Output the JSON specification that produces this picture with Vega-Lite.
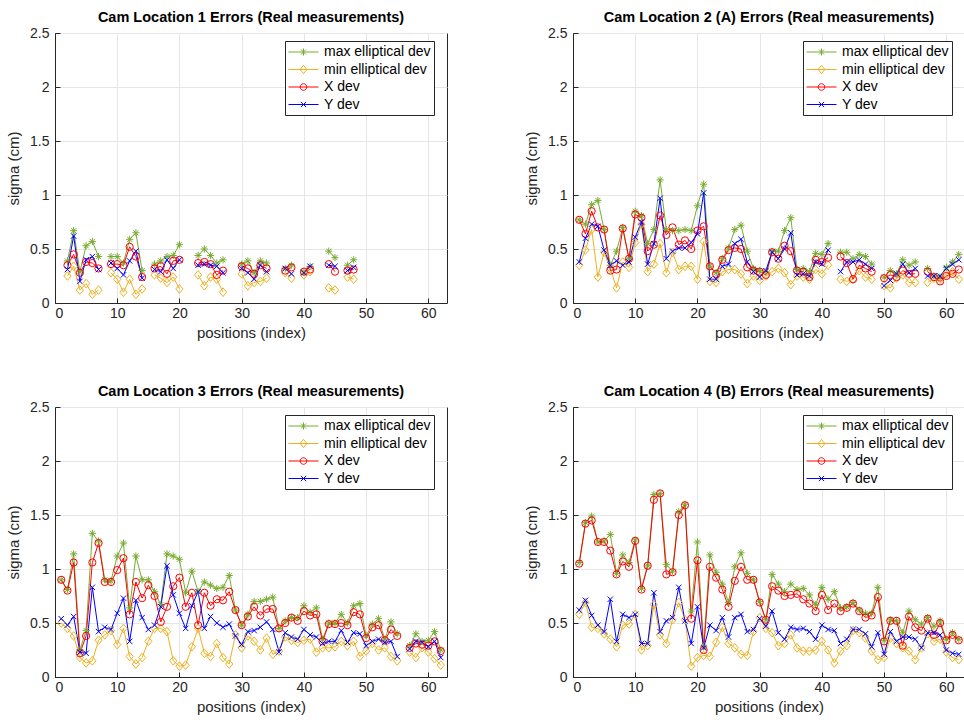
{
"$schema": "https://vega.github.io/schema/vega-lite/v6.json",
"background": "white",
"padding": {"left": 6, "top": 9, "right": 0, "bottom": 0},
"datasets": {
"d": [
{"p":1,"i":2,"mx":0.39,"mn":0.25,"xd":0.35,"yd":0.31},
{"p":1,"i":3,"mx":0.67,"mn":0.34,"xd":0.45,"yd":0.62},
{"p":1,"i":4,"mx":0.29,"mn":0.12,"xd":0.28,"yd":0.20},
{"p":1,"i":5,"mx":0.53,"mn":0.18,"xd":0.38,"yd":0.40},
{"p":1,"i":6,"mx":0.57,"mn":0.08,"xd":0.37,"yd":0.43},
{"p":1,"i":7,"mx":0.43,"mn":0.12,"xd":0.32,"yd":0.31},
{"p":1,"i":8},
{"p":1,"i":9,"mx":0.43,"mn":0.28,"xd":0.36,"yd":0.37},
{"p":1,"i":10,"mx":0.43,"mn":0.22,"xd":0.36,"yd":0.32},
{"p":1,"i":11,"mx":0.37,"mn":0.10,"xd":0.35,"yd":0.26},
{"p":1,"i":12,"mx":0.59,"mn":0.22,"xd":0.52,"yd":0.39},
{"p":1,"i":13,"mx":0.65,"mn":0.08,"xd":0.43,"yd":0.48},
{"p":1,"i":14,"mx":0.30,"mn":0.13,"xd":0.24,"yd":0.23},
{"p":1,"i":15},
{"p":1,"i":16,"mx":0.36,"mn":0.26,"xd":0.32,"yd":0.31},
{"p":1,"i":17,"mx":0.39,"mn":0.23,"xd":0.34,"yd":0.29},
{"p":1,"i":18,"mx":0.43,"mn":0.19,"xd":0.27,"yd":0.40},
{"p":1,"i":19,"mx":0.44,"mn":0.24,"xd":0.39,"yd":0.32},
{"p":1,"i":20,"mx":0.54,"mn":0.13,"xd":0.40,"yd":0.40},
{"p":1,"i":21},
{"p":1,"i":23,"mx":0.44,"mn":0.26,"xd":0.37,"yd":0.35},
{"p":1,"i":24,"mx":0.50,"mn":0.16,"xd":0.38,"yd":0.36},
{"p":1,"i":25,"mx":0.44,"mn":0.24,"xd":0.36,"yd":0.35},
{"p":1,"i":26,"mx":0.37,"mn":0.22,"xd":0.26,"yd":0.34},
{"p":1,"i":27,"mx":0.40,"mn":0.10,"xd":0.30,"yd":0.28},
{"p":1,"i":28},
{"p":1,"i":30,"mx":0.36,"mn":0.27,"xd":0.34,"yd":0.32},
{"p":1,"i":31,"mx":0.39,"mn":0.16,"xd":0.32,"yd":0.28},
{"p":1,"i":32,"mx":0.28,"mn":0.19,"xd":0.27,"yd":0.22},
{"p":1,"i":33,"mx":0.39,"mn":0.20,"xd":0.35,"yd":0.35},
{"p":1,"i":34,"mx":0.37,"mn":0.23,"xd":0.32,"yd":0.29},
{"p":1,"i":35},
{"p":1,"i":37,"mx":0.32,"mn":0.28,"xd":0.30,"yd":0.32},
{"p":1,"i":38,"mx":0.35,"mn":0.23,"xd":0.33,"yd":0.27},
{"p":1,"i":39},
{"p":1,"i":40,"mx":0.29,"mn":0.26,"xd":0.29,"yd":0.28},
{"p":1,"i":41,"mx":0.34,"mn":0.29,"xd":0.31,"yd":0.34},
{"p":1,"i":42},
{"p":1,"i":44,"mx":0.48,"mn":0.14,"xd":0.36,"yd":0.35},
{"p":1,"i":45,"mx":0.42,"mn":0.12,"xd":0.29,"yd":0.34},
{"p":1,"i":46},
{"p":1,"i":47,"mx":0.35,"mn":0.24,"xd":0.30,"yd":0.30},
{"p":1,"i":48,"mx":0.40,"mn":0.22,"xd":0.31,"yd":0.33},
{"p":2,"i":1,"mx":0.77,"mn":0.35,"xd":0.77,"yd":0.38},
{"p":2,"i":2,"mx":0.73,"mn":0.49,"xd":0.64,"yd":0.60},
{"p":2,"i":3,"mx":0.91,"mn":0.68,"xd":0.85,"yd":0.73},
{"p":2,"i":4,"mx":0.95,"mn":0.24,"xd":0.70,"yd":0.71},
{"p":2,"i":5,"mx":0.68,"mn":0.47,"xd":0.68,"yd":0.49},
{"p":2,"i":6,"mx":0.35,"mn":0.32,"xd":0.30,"yd":0.35},
{"p":2,"i":7,"mx":0.48,"mn":0.14,"xd":0.31,"yd":0.39},
{"p":2,"i":8,"mx":0.70,"mn":0.38,"xd":0.69,"yd":0.35},
{"p":2,"i":9,"mx":0.41,"mn":0.33,"xd":0.41,"yd":0.38},
{"p":2,"i":10,"mx":0.85,"mn":0.56,"xd":0.82,"yd":0.61},
{"p":2,"i":11,"mx":0.81,"mn":0.73,"xd":0.79,"yd":0.75},
{"p":2,"i":12,"mx":0.55,"mn":0.29,"xd":0.48,"yd":0.36},
{"p":2,"i":13,"mx":0.68,"mn":0.36,"xd":0.54,"yd":0.55},
{"p":2,"i":14,"mx":1.14,"mn":0.55,"xd":0.81,"yd":0.97},
{"p":2,"i":15,"mx":0.68,"mn":0.28,"xd":0.63,"yd":0.41},
{"p":2,"i":16,"mx":0.67,"mn":0.47,"xd":0.70,"yd":0.48},
{"p":2,"i":17,"mx":0.67,"mn":0.31,"xd":0.54,"yd":0.51},
{"p":2,"i":18,"mx":0.68,"mn":0.34,"xd":0.58,"yd":0.51},
{"p":2,"i":19,"mx":0.67,"mn":0.34,"xd":0.50,"yd":0.56},
{"p":2,"i":20,"mx":0.90,"mn":0.22,"xd":0.67,"yd":0.64},
{"p":2,"i":21,"mx":1.10,"mn":0.57,"xd":0.71,"yd":1.02},
{"p":2,"i":22,"mx":0.34,"mn":0.20,"xd":0.34,"yd":0.22},
{"p":2,"i":23,"mx":0.28,"mn":0.19,"xd":0.27,"yd":0.22},
{"p":2,"i":24,"mx":0.41,"mn":0.29,"xd":0.40,"yd":0.34},
{"p":2,"i":25,"mx":0.51,"mn":0.31,"xd":0.49,"yd":0.36},
{"p":2,"i":26,"mx":0.68,"mn":0.31,"xd":0.51,"yd":0.55},
{"p":2,"i":27,"mx":0.72,"mn":0.27,"xd":0.50,"yd":0.59},
{"p":2,"i":28,"mx":0.48,"mn":0.18,"xd":0.33,"yd":0.38},
{"p":2,"i":29,"mx":0.32,"mn":0.25,"xd":0.30,"yd":0.29},
{"p":2,"i":30,"mx":0.30,"mn":0.21,"xd":0.29,"yd":0.24},
{"p":2,"i":31,"mx":0.29,"mn":0.25,"xd":0.26,"yd":0.30},
{"p":2,"i":32,"mx":0.48,"mn":0.29,"xd":0.47,"yd":0.47},
{"p":2,"i":33,"mx":0.48,"mn":0.32,"xd":0.41,"yd":0.41},
{"p":2,"i":34,"mx":0.67,"mn":0.28,"xd":0.53,"yd":0.50},
{"p":2,"i":35,"mx":0.79,"mn":0.17,"xd":0.48,"yd":0.65},
{"p":2,"i":36,"mx":0.31,"mn":0.25,"xd":0.30,"yd":0.26},
{"p":2,"i":37,"mx":0.32,"mn":0.24,"xd":0.29,"yd":0.27},
{"p":2,"i":38,"mx":0.29,"mn":0.22,"xd":0.24,"yd":0.25},
{"p":2,"i":39,"mx":0.46,"mn":0.31,"xd":0.40,"yd":0.38},
{"p":2,"i":40,"mx":0.45,"mn":0.27,"xd":0.38,"yd":0.36},
{"p":2,"i":41,"mx":0.55,"mn":0.35,"xd":0.42,"yd":0.49},
{"p":2,"i":42},
{"p":2,"i":43,"mx":0.47,"mn":0.22,"xd":0.43,"yd":0.29},
{"p":2,"i":44,"mx":0.47,"mn":0.20,"xd":0.37,"yd":0.38},
{"p":2,"i":45,"mx":0.41,"mn":0.22,"xd":0.22,"yd":0.38},
{"p":2,"i":46,"mx":0.45,"mn":0.30,"xd":0.35,"yd":0.40},
{"p":2,"i":47,"mx":0.43,"mn":0.24,"xd":0.32,"yd":0.36},
{"p":2,"i":48,"mx":0.36,"mn":0.22,"xd":0.29,"yd":0.32},
{"p":2,"i":49},
{"p":2,"i":50,"mx":0.24,"mn":0.16,"xd":0.23,"yd":0.16},
{"p":2,"i":51,"mx":0.30,"mn":0.14,"xd":0.26,"yd":0.21},
{"p":2,"i":52,"mx":0.27,"mn":0.23,"xd":0.24,"yd":0.27},
{"p":2,"i":53,"mx":0.40,"mn":0.26,"xd":0.30,"yd":0.36},
{"p":2,"i":54,"mx":0.35,"mn":0.19,"xd":0.27,"yd":0.28},
{"p":2,"i":55,"mx":0.38,"mn":0.19,"xd":0.27,"yd":0.32},
{"p":2,"i":56},
{"p":2,"i":57,"mx":0.32,"mn":0.19,"xd":0.29,"yd":0.25},
{"p":2,"i":58,"mx":0.25,"mn":0.23,"xd":0.24,"yd":0.25},
{"p":2,"i":59,"mx":0.24,"mn":0.22,"xd":0.20,"yd":0.25},
{"p":2,"i":60,"mx":0.33,"mn":0.27,"xd":0.25,"yd":0.32},
{"p":2,"i":61,"mx":0.38,"mn":0.29,"xd":0.27,"yd":0.36},
{"p":2,"i":62,"mx":0.45,"mn":0.22,"xd":0.31,"yd":0.40},
{"p":3,"i":1,"mx":0.90,"mn":0.50,"xd":0.90,"yd":0.54},
{"p":3,"i":2,"mx":0.81,"mn":0.45,"xd":0.80,"yd":0.48},
{"p":3,"i":3,"mx":1.14,"mn":0.38,"xd":1.06,"yd":0.56},
{"p":3,"i":4,"mx":0.25,"mn":0.18,"xd":0.22,"yd":0.23},
{"p":3,"i":5,"mx":0.43,"mn":0.13,"xd":0.38,"yd":0.22},
{"p":3,"i":6,"mx":1.33,"mn":0.15,"xd":1.06,"yd":0.83},
{"p":3,"i":7,"mx":1.26,"mn":0.34,"xd":1.24,"yd":0.42},
{"p":3,"i":8,"mx":0.90,"mn":0.39,"xd":0.88,"yd":0.46},
{"p":3,"i":9,"mx":0.89,"mn":0.43,"xd":0.88,"yd":0.44},
{"p":3,"i":10,"mx":1.12,"mn":0.30,"xd":0.99,"yd":0.59},
{"p":3,"i":11,"mx":1.24,"mn":0.45,"xd":1.10,"yd":0.73},
{"p":3,"i":12,"mx":0.64,"mn":0.19,"xd":0.58,"yd":0.33},
{"p":3,"i":13,"mx":1.12,"mn":0.12,"xd":0.88,"yd":0.71},
{"p":3,"i":14,"mx":0.90,"mn":0.18,"xd":0.73,"yd":0.55},
{"p":3,"i":15,"mx":0.90,"mn":0.33,"xd":0.85,"yd":0.44},
{"p":3,"i":16,"mx":0.79,"mn":0.45,"xd":0.75,"yd":0.48},
{"p":3,"i":17,"mx":0.67,"mn":0.45,"xd":0.51,"yd":0.65},
{"p":3,"i":18,"mx":1.14,"mn":0.42,"xd":0.65,"yd":1.03},
{"p":3,"i":19,"mx":1.12,"mn":0.15,"xd":0.84,"yd":0.76},
{"p":3,"i":20,"mx":1.09,"mn":0.10,"xd":0.92,"yd":0.59},
{"p":3,"i":21,"mx":0.78,"mn":0.11,"xd":0.65,"yd":0.45},
{"p":3,"i":22,"mx":0.98,"mn":0.28,"xd":0.78,"yd":0.66},
{"p":3,"i":23,"mx":0.79,"mn":0.45,"xd":0.48,"yd":0.79},
{"p":3,"i":24,"mx":0.88,"mn":0.22,"xd":0.78,"yd":0.45},
{"p":3,"i":25,"mx":0.85,"mn":0.19,"xd":0.66,"yd":0.56},
{"p":3,"i":26,"mx":0.82,"mn":0.31,"xd":0.72,"yd":0.50},
{"p":3,"i":27,"mx":0.83,"mn":0.18,"xd":0.71,"yd":0.46},
{"p":3,"i":28,"mx":0.94,"mn":0.12,"xd":0.79,"yd":0.49},
{"p":3,"i":29,"mx":0.62,"mn":0.39,"xd":0.62,"yd":0.38},
{"p":3,"i":30,"mx":0.48,"mn":0.27,"xd":0.48,"yd":0.30},
{"p":3,"i":31,"mx":0.58,"mn":0.38,"xd":0.56,"yd":0.42},
{"p":3,"i":32,"mx":0.70,"mn":0.33,"xd":0.65,"yd":0.43},
{"p":3,"i":33,"mx":0.70,"mn":0.25,"xd":0.57,"yd":0.46},
{"p":3,"i":34,"mx":0.72,"mn":0.36,"xd":0.63,"yd":0.51},
{"p":3,"i":35,"mx":0.74,"mn":0.21,"xd":0.63,"yd":0.44},
{"p":3,"i":36,"mx":0.45,"mn":0.24,"xd":0.45,"yd":0.23},
{"p":3,"i":37,"mx":0.52,"mn":0.37,"xd":0.50,"yd":0.41},
{"p":3,"i":38,"mx":0.55,"mn":0.34,"xd":0.55,"yd":0.37},
{"p":3,"i":39,"mx":0.55,"mn":0.32,"xd":0.52,"yd":0.35},
{"p":3,"i":40,"mx":0.66,"mn":0.34,"xd":0.61,"yd":0.44},
{"p":3,"i":41,"mx":0.60,"mn":0.35,"xd":0.57,"yd":0.39},
{"p":3,"i":42,"mx":0.64,"mn":0.23,"xd":0.58,"yd":0.37},
{"p":3,"i":43,"mx":0.35,"mn":0.27,"xd":0.33,"yd":0.31},
{"p":3,"i":44,"mx":0.50,"mn":0.27,"xd":0.49,"yd":0.33},
{"p":3,"i":45,"mx":0.50,"mn":0.28,"xd":0.49,"yd":0.33},
{"p":3,"i":46,"mx":0.58,"mn":0.33,"xd":0.50,"yd":0.43},
{"p":3,"i":47,"mx":0.50,"mn":0.29,"xd":0.48,"yd":0.32},
{"p":3,"i":48,"mx":0.66,"mn":0.33,"xd":0.60,"yd":0.41},
{"p":3,"i":49,"mx":0.68,"mn":0.19,"xd":0.58,"yd":0.40},
{"p":3,"i":50,"mx":0.38,"mn":0.24,"xd":0.36,"yd":0.29},
{"p":3,"i":51,"mx":0.49,"mn":0.31,"xd":0.46,"yd":0.33},
{"p":3,"i":52,"mx":0.54,"mn":0.25,"xd":0.48,"yd":0.35},
{"p":3,"i":53,"mx":0.35,"mn":0.27,"xd":0.34,"yd":0.32},
{"p":3,"i":54,"mx":0.51,"mn":0.19,"xd":0.44,"yd":0.33},
{"p":3,"i":55,"mx":0.40,"mn":0.15,"xd":0.38,"yd":0.19},
{"p":3,"i":56},
{"p":3,"i":57,"mx":0.29,"mn":0.23,"xd":0.27,"yd":0.26},
{"p":3,"i":58,"mx":0.40,"mn":0.18,"xd":0.31,"yd":0.33},
{"p":3,"i":59,"mx":0.33,"mn":0.27,"xd":0.30,"yd":0.32},
{"p":3,"i":60,"mx":0.34,"mn":0.23,"xd":0.29,"yd":0.28},
{"p":3,"i":61,"mx":0.42,"mn":0.17,"xd":0.33,"yd":0.33},
{"p":3,"i":62,"mx":0.25,"mn":0.11,"xd":0.24,"yd":0.18},
{"p":4,"i":1,"mx":1.06,"mn":0.58,"xd":1.05,"yd":0.62},
{"p":4,"i":2,"mx":1.43,"mn":0.69,"xd":1.42,"yd":0.71},
{"p":4,"i":3,"mx":1.49,"mn":0.46,"xd":1.45,"yd":0.57},
{"p":4,"i":4,"mx":1.25,"mn":0.45,"xd":1.25,"yd":0.48},
{"p":4,"i":5,"mx":1.26,"mn":0.40,"xd":1.25,"yd":0.42},
{"p":4,"i":6,"mx":1.32,"mn":0.35,"xd":1.17,"yd":0.72},
{"p":4,"i":7,"mx":0.96,"mn":0.28,"xd":0.95,"yd":0.33},
{"p":4,"i":8,"mx":1.13,"mn":0.48,"xd":1.07,"yd":0.58},
{"p":4,"i":9,"mx":1.06,"mn":0.49,"xd":1.02,"yd":0.55},
{"p":4,"i":10,"mx":1.27,"mn":0.58,"xd":1.26,"yd":0.58},
{"p":4,"i":11,"mx":0.82,"mn":0.25,"xd":0.81,"yd":0.31},
{"p":4,"i":12,"mx":1.03,"mn":0.29,"xd":1.03,"yd":0.31},
{"p":4,"i":13,"mx":1.69,"mn":0.67,"xd":1.64,"yd":0.78},
{"p":4,"i":14,"mx":1.70,"mn":0.39,"xd":1.70,"yd":0.42},
{"p":4,"i":15,"mx":1.04,"mn":0.31,"xd":0.95,"yd":0.52},
{"p":4,"i":16,"mx":0.98,"mn":0.53,"xd":0.97,"yd":0.55},
{"p":4,"i":17,"mx":1.53,"mn":0.69,"xd":1.50,"yd":0.83},
{"p":4,"i":18,"mx":1.60,"mn":0.53,"xd":1.59,"yd":0.52},
{"p":4,"i":19,"mx":0.61,"mn":0.10,"xd":0.54,"yd":0.31},
{"p":4,"i":20,"mx":1.25,"mn":0.18,"xd":1.08,"yd":0.65},
{"p":4,"i":21,"mx":0.28,"mn":0.20,"xd":0.25,"yd":0.27},
{"p":4,"i":22,"mx":1.13,"mn":0.19,"xd":1.02,"yd":0.48},
{"p":4,"i":23,"mx":0.97,"mn":0.32,"xd":0.92,"yd":0.43},
{"p":4,"i":24,"mx":0.86,"mn":0.46,"xd":0.81,"yd":0.55},
{"p":4,"i":25,"mx":0.69,"mn":0.31,"xd":0.65,"yd":0.37},
{"p":4,"i":26,"mx":1.02,"mn":0.27,"xd":0.89,"yd":0.55},
{"p":4,"i":27,"mx":1.15,"mn":0.21,"xd":1.02,"yd":0.58},
{"p":4,"i":28,"mx":0.96,"mn":0.20,"xd":0.90,"yd":0.42},
{"p":4,"i":29,"mx":0.90,"mn":0.42,"xd":0.90,"yd":0.44},
{"p":4,"i":30,"mx":0.70,"mn":0.55,"xd":0.69,"yd":0.54},
{"p":4,"i":31,"mx":0.53,"mn":0.45,"xd":0.53,"yd":0.47},
{"p":4,"i":32,"mx":0.95,"mn":0.41,"xd":0.84,"yd":0.61},
{"p":4,"i":33,"mx":0.86,"mn":0.29,"xd":0.80,"yd":0.41},
{"p":4,"i":34,"mx":0.79,"mn":0.31,"xd":0.75,"yd":0.35},
{"p":4,"i":35,"mx":0.86,"mn":0.39,"xd":0.76,"yd":0.46},
{"p":4,"i":36,"mx":0.81,"mn":0.27,"xd":0.77,"yd":0.44},
{"p":4,"i":37,"mx":0.82,"mn":0.24,"xd":0.72,"yd":0.45},
{"p":4,"i":38,"mx":0.76,"mn":0.24,"xd":0.68,"yd":0.42},
{"p":4,"i":39,"mx":0.67,"mn":0.25,"xd":0.61,"yd":0.35},
{"p":4,"i":40,"mx":0.83,"mn":0.33,"xd":0.76,"yd":0.48},
{"p":4,"i":41,"mx":0.72,"mn":0.25,"xd":0.62,"yd":0.44},
{"p":4,"i":42,"mx":0.79,"mn":0.13,"xd":0.68,"yd":0.43},
{"p":4,"i":43,"mx":0.64,"mn":0.24,"xd":0.61,"yd":0.31},
{"p":4,"i":44,"mx":0.65,"mn":0.29,"xd":0.64,"yd":0.35},
{"p":4,"i":45,"mx":0.69,"mn":0.43,"xd":0.68,"yd":0.44},
{"p":4,"i":46,"mx":0.62,"mn":0.41,"xd":0.61,"yd":0.44},
{"p":4,"i":47,"mx":0.59,"mn":0.36,"xd":0.55,"yd":0.40},
{"p":4,"i":48,"mx":0.59,"mn":0.24,"xd":0.57,"yd":0.28},
{"p":4,"i":49,"mx":0.83,"mn":0.16,"xd":0.74,"yd":0.41},
{"p":4,"i":50,"mx":0.34,"mn":0.18,"xd":0.33,"yd":0.21},
{"p":4,"i":51,"mx":0.53,"mn":0.36,"xd":0.52,"yd":0.42},
{"p":4,"i":52,"mx":0.52,"mn":0.31,"xd":0.52,"yd":0.33},
{"p":4,"i":53,"mx":0.41,"mn":0.27,"xd":0.29,"yd":0.37},
{"p":4,"i":54,"mx":0.61,"mn":0.24,"xd":0.56,"yd":0.37},
{"p":4,"i":55,"mx":0.53,"mn":0.16,"xd":0.46,"yd":0.35},
{"p":4,"i":56,"mx":0.49,"mn":0.27,"xd":0.43,"yd":0.27},
{"p":4,"i":57,"mx":0.55,"mn":0.40,"xd":0.54,"yd":0.41},
{"p":4,"i":58,"mx":0.47,"mn":0.33,"xd":0.39,"yd":0.41},
{"p":4,"i":59,"mx":0.52,"mn":0.35,"xd":0.50,"yd":0.39},
{"p":4,"i":60,"mx":0.35,"mn":0.23,"xd":0.34,"yd":0.25},
{"p":4,"i":61,"mx":0.41,"mn":0.18,"xd":0.39,"yd":0.22},
{"p":4,"i":62,"mx":0.35,"mn":0.16,"xd":0.34,"yd":0.21}
]
},
"data": {"name": "d"},
"columns": 2,
"spacing": {"row": 42, "column": 76},
"concat": [
{
"title": "Cam Location 1 Errors (Real measurements)",
"width": 392, "height": 270,
"transform": [{"filter": "datum.p == 1"}, {"fold": ["mx","mn","xd","yd"], "as": ["s","v"]}],
"encoding": {
"x": {"field": "i", "type": "quantitative", "scale": {"domain": [0,63], "nice": false, "zero": false}, "axis": {"values": [0,10,20,30,40,50,60], "title": "positions (index)"}},
"y": {"field": "v", "type": "quantitative", "scale": {"domain": [0,2.5], "nice": false}, "axis": {"values": [0,0.5,1,1.5,2,2.5], "format": "~g", "title": "sigma (cm)"}}
},
"layer": [
{"mark": {"type": "line", "strokeWidth": 1, "invalid": "break-paths-filter-domains"},
 "encoding": {"color": {"field": "s", "type": "nominal", "scale": {"domain": ["mx","mn","xd","yd"], "range": ["#77AC30","#EDB120","#FF0000","#0000FF"]}, "legend": null}}},
{"mark": {"type": "point", "filled": false, "size": 52, "strokeWidth": 1, "opacity": 1},
 "encoding": {"color": {"field": "s", "type": "nominal", "scale": {"domain": ["mx","mn","xd","yd"], "range": ["#77AC30","#EDB120","#FF0000","#0000FF"]}, "legend": null},
  "shape": {"field": "s", "type": "nominal", "scale": {"domain": ["mx","mn","xd","yd"], "range": ["M-1,0L1,0M0,-1L0,1M-0.7,-0.7L0.7,0.7M-0.7,0.7L0.7,-0.7","M-1,0L0,-1.2L1,0L0,1.2Z","circle","M-0.75,-0.75L0.75,0.75M-0.75,0.75L0.75,-0.75"]}, "legend": null}}},
{"transform": [{"filter": "false"}],
 "mark": {"type": "point", "filled": false, "strokeWidth": 1, "opacity": 1},
 "encoding": {"color": {"field": "s", "type": "nominal", "scale": {"domain": ["mx","mn","xd","yd"], "range": ["#77AC30","#EDB120","#FF0000","#0000FF"]}, "legend": {"labelExpr": "datum.value == 'mx' ? 'max elliptical dev\u00a0\u00a0' : datum.value == 'mn' ? 'min elliptical dev' : datum.value == 'xd' ? 'X dev' : 'Y dev'"}},
  "shape": {"field": "s", "type": "nominal", "scale": {"domain": ["mx","mn","xd","yd"], "range": ["M-1,0L3,0M1,-0.47L1,0.47M0.67,-0.33L1.33,0.33M0.67,0.33L1.33,-0.33","M-1,0L3,0M0.55,0L1,-0.55L1.45,0L1,0.55Z","M-1,0L3,0M0.56,0A0.44,0.44,0,1,1,1.44,0A0.44,0.44,0,1,1,0.56,0","M-1,0L3,0M0.65,-0.35L1.35,0.35M0.65,0.35L1.35,-0.35"]}, "legend": {"labelExpr": "datum.value == 'mx' ? 'max elliptical dev\u00a0\u00a0' : datum.value == 'mn' ? 'min elliptical dev' : datum.value == 'xd' ? 'X dev' : 'Y dev'"}}}}
],
"resolve": {"scale": {"color": "independent", "shape": "independent"}}
},
{
"title": "Cam Location 2 (A) Errors (Real measurements)",
"width": 392, "height": 270,
"transform": [{"filter": "datum.p == 2"}, {"fold": ["mx","mn","xd","yd"], "as": ["s","v"]}],
"encoding": {
"x": {"field": "i", "type": "quantitative", "scale": {"domain": [0,63], "nice": false, "zero": false}, "axis": {"values": [0,10,20,30,40,50,60], "title": "positions (index)"}},
"y": {"field": "v", "type": "quantitative", "scale": {"domain": [0,2.5], "nice": false}, "axis": {"values": [0,0.5,1,1.5,2,2.5], "format": "~g", "title": "sigma (cm)"}}
},
"layer": [
{"mark": {"type": "line", "strokeWidth": 1, "invalid": "break-paths-filter-domains"},
 "encoding": {"color": {"field": "s", "type": "nominal", "scale": {"domain": ["mx","mn","xd","yd"], "range": ["#77AC30","#EDB120","#FF0000","#0000FF"]}, "legend": null}}},
{"mark": {"type": "point", "filled": false, "size": 52, "strokeWidth": 1, "opacity": 1},
 "encoding": {"color": {"field": "s", "type": "nominal", "scale": {"domain": ["mx","mn","xd","yd"], "range": ["#77AC30","#EDB120","#FF0000","#0000FF"]}, "legend": null},
  "shape": {"field": "s", "type": "nominal", "scale": {"domain": ["mx","mn","xd","yd"], "range": ["M-1,0L1,0M0,-1L0,1M-0.7,-0.7L0.7,0.7M-0.7,0.7L0.7,-0.7","M-1,0L0,-1.2L1,0L0,1.2Z","circle","M-0.75,-0.75L0.75,0.75M-0.75,0.75L0.75,-0.75"]}, "legend": null}}},
{"transform": [{"filter": "false"}],
 "mark": {"type": "point", "filled": false, "strokeWidth": 1, "opacity": 1},
 "encoding": {"color": {"field": "s", "type": "nominal", "scale": {"domain": ["mx","mn","xd","yd"], "range": ["#77AC30","#EDB120","#FF0000","#0000FF"]}, "legend": {"labelExpr": "datum.value == 'mx' ? 'max elliptical dev\u00a0\u00a0' : datum.value == 'mn' ? 'min elliptical dev' : datum.value == 'xd' ? 'X dev' : 'Y dev'"}},
  "shape": {"field": "s", "type": "nominal", "scale": {"domain": ["mx","mn","xd","yd"], "range": ["M-1,0L3,0M1,-0.47L1,0.47M0.67,-0.33L1.33,0.33M0.67,0.33L1.33,-0.33","M-1,0L3,0M0.55,0L1,-0.55L1.45,0L1,0.55Z","M-1,0L3,0M0.56,0A0.44,0.44,0,1,1,1.44,0A0.44,0.44,0,1,1,0.56,0","M-1,0L3,0M0.65,-0.35L1.35,0.35M0.65,0.35L1.35,-0.35"]}, "legend": {"labelExpr": "datum.value == 'mx' ? 'max elliptical dev\u00a0\u00a0' : datum.value == 'mn' ? 'min elliptical dev' : datum.value == 'xd' ? 'X dev' : 'Y dev'"}}}}
],
"resolve": {"scale": {"color": "independent", "shape": "independent"}}
},
{
"title": "Cam Location 3 Errors (Real measurements)",
"width": 392, "height": 270,
"transform": [{"filter": "datum.p == 3"}, {"fold": ["mx","mn","xd","yd"], "as": ["s","v"]}],
"encoding": {
"x": {"field": "i", "type": "quantitative", "scale": {"domain": [0,63], "nice": false, "zero": false}, "axis": {"values": [0,10,20,30,40,50,60], "title": "positions (index)"}},
"y": {"field": "v", "type": "quantitative", "scale": {"domain": [0,2.5], "nice": false}, "axis": {"values": [0,0.5,1,1.5,2,2.5], "format": "~g", "title": "sigma (cm)"}}
},
"layer": [
{"mark": {"type": "line", "strokeWidth": 1, "invalid": "break-paths-filter-domains"},
 "encoding": {"color": {"field": "s", "type": "nominal", "scale": {"domain": ["mx","mn","xd","yd"], "range": ["#77AC30","#EDB120","#FF0000","#0000FF"]}, "legend": null}}},
{"mark": {"type": "point", "filled": false, "size": 52, "strokeWidth": 1, "opacity": 1},
 "encoding": {"color": {"field": "s", "type": "nominal", "scale": {"domain": ["mx","mn","xd","yd"], "range": ["#77AC30","#EDB120","#FF0000","#0000FF"]}, "legend": null},
  "shape": {"field": "s", "type": "nominal", "scale": {"domain": ["mx","mn","xd","yd"], "range": ["M-1,0L1,0M0,-1L0,1M-0.7,-0.7L0.7,0.7M-0.7,0.7L0.7,-0.7","M-1,0L0,-1.2L1,0L0,1.2Z","circle","M-0.75,-0.75L0.75,0.75M-0.75,0.75L0.75,-0.75"]}, "legend": null}}},
{"transform": [{"filter": "false"}],
 "mark": {"type": "point", "filled": false, "strokeWidth": 1, "opacity": 1},
 "encoding": {"color": {"field": "s", "type": "nominal", "scale": {"domain": ["mx","mn","xd","yd"], "range": ["#77AC30","#EDB120","#FF0000","#0000FF"]}, "legend": {"labelExpr": "datum.value == 'mx' ? 'max elliptical dev\u00a0\u00a0' : datum.value == 'mn' ? 'min elliptical dev' : datum.value == 'xd' ? 'X dev' : 'Y dev'"}},
  "shape": {"field": "s", "type": "nominal", "scale": {"domain": ["mx","mn","xd","yd"], "range": ["M-1,0L3,0M1,-0.47L1,0.47M0.67,-0.33L1.33,0.33M0.67,0.33L1.33,-0.33","M-1,0L3,0M0.55,0L1,-0.55L1.45,0L1,0.55Z","M-1,0L3,0M0.56,0A0.44,0.44,0,1,1,1.44,0A0.44,0.44,0,1,1,0.56,0","M-1,0L3,0M0.65,-0.35L1.35,0.35M0.65,0.35L1.35,-0.35"]}, "legend": {"labelExpr": "datum.value == 'mx' ? 'max elliptical dev\u00a0\u00a0' : datum.value == 'mn' ? 'min elliptical dev' : datum.value == 'xd' ? 'X dev' : 'Y dev'"}}}}
],
"resolve": {"scale": {"color": "independent", "shape": "independent"}}
},
{
"title": "Cam Location 4 (B) Errors (Real measurements)",
"width": 392, "height": 270,
"transform": [{"filter": "datum.p == 4"}, {"fold": ["mx","mn","xd","yd"], "as": ["s","v"]}],
"encoding": {
"x": {"field": "i", "type": "quantitative", "scale": {"domain": [0,63], "nice": false, "zero": false}, "axis": {"values": [0,10,20,30,40,50,60], "title": "positions (index)"}},
"y": {"field": "v", "type": "quantitative", "scale": {"domain": [0,2.5], "nice": false}, "axis": {"values": [0,0.5,1,1.5,2,2.5], "format": "~g", "title": "sigma (cm)"}}
},
"layer": [
{"mark": {"type": "line", "strokeWidth": 1, "invalid": "break-paths-filter-domains"},
 "encoding": {"color": {"field": "s", "type": "nominal", "scale": {"domain": ["mx","mn","xd","yd"], "range": ["#77AC30","#EDB120","#FF0000","#0000FF"]}, "legend": null}}},
{"mark": {"type": "point", "filled": false, "size": 52, "strokeWidth": 1, "opacity": 1},
 "encoding": {"color": {"field": "s", "type": "nominal", "scale": {"domain": ["mx","mn","xd","yd"], "range": ["#77AC30","#EDB120","#FF0000","#0000FF"]}, "legend": null},
  "shape": {"field": "s", "type": "nominal", "scale": {"domain": ["mx","mn","xd","yd"], "range": ["M-1,0L1,0M0,-1L0,1M-0.7,-0.7L0.7,0.7M-0.7,0.7L0.7,-0.7","M-1,0L0,-1.2L1,0L0,1.2Z","circle","M-0.75,-0.75L0.75,0.75M-0.75,0.75L0.75,-0.75"]}, "legend": null}}},
{"transform": [{"filter": "false"}],
 "mark": {"type": "point", "filled": false, "strokeWidth": 1, "opacity": 1},
 "encoding": {"color": {"field": "s", "type": "nominal", "scale": {"domain": ["mx","mn","xd","yd"], "range": ["#77AC30","#EDB120","#FF0000","#0000FF"]}, "legend": {"labelExpr": "datum.value == 'mx' ? 'max elliptical dev\u00a0\u00a0' : datum.value == 'mn' ? 'min elliptical dev' : datum.value == 'xd' ? 'X dev' : 'Y dev'"}},
  "shape": {"field": "s", "type": "nominal", "scale": {"domain": ["mx","mn","xd","yd"], "range": ["M-1,0L3,0M1,-0.47L1,0.47M0.67,-0.33L1.33,0.33M0.67,0.33L1.33,-0.33","M-1,0L3,0M0.55,0L1,-0.55L1.45,0L1,0.55Z","M-1,0L3,0M0.56,0A0.44,0.44,0,1,1,1.44,0A0.44,0.44,0,1,1,0.56,0","M-1,0L3,0M0.65,-0.35L1.35,0.35M0.65,0.35L1.35,-0.35"]}, "legend": {"labelExpr": "datum.value == 'mx' ? 'max elliptical dev\u00a0\u00a0' : datum.value == 'mn' ? 'min elliptical dev' : datum.value == 'xd' ? 'X dev' : 'Y dev'"}}}}
],
"resolve": {"scale": {"color": "independent", "shape": "independent"}}
}
],
"config": {
"font": "Liberation Sans",
"view": {"stroke": "#262626", "strokeWidth": 1},
"axis": {"labelFont": "Liberation Sans", "labelFontSize": 14, "labelColor": "#262626", "titleFont": "Liberation Sans", "titleFontSize": 15, "titleFontWeight": "normal", "titleColor": "#262626", "gridColor": "#e6e6e6", "gridWidth": 1, "domainColor": "#262626", "tickColor": "#262626", "ticks": true, "tickSize": -5, "labelPadding": 11},
"axisX": {"titlePadding": 5, "labelPadding": 8},
"axisY": {"titlePadding": 8},
"title": {"font": "Liberation Sans", "fontSize": 14.5, "fontWeight": "bold", "color": "black", "offset": 1, "anchor": "middle", "frame": "group"},
"legend": {"orient": "none", "legendX": 230, "legendY": 8, "title": null, "strokeColor": "#262626", "fillColor": "white", "padding": 3, "labelFont": "Liberation Sans", "labelFontSize": 14, "labelColor": "black", "symbolSize": 225, "symbolStrokeWidth": 1, "rowPadding": 2.5, "labelOffset": 20, "cornerRadius": 0, "labelLimit": 300}
}
}
